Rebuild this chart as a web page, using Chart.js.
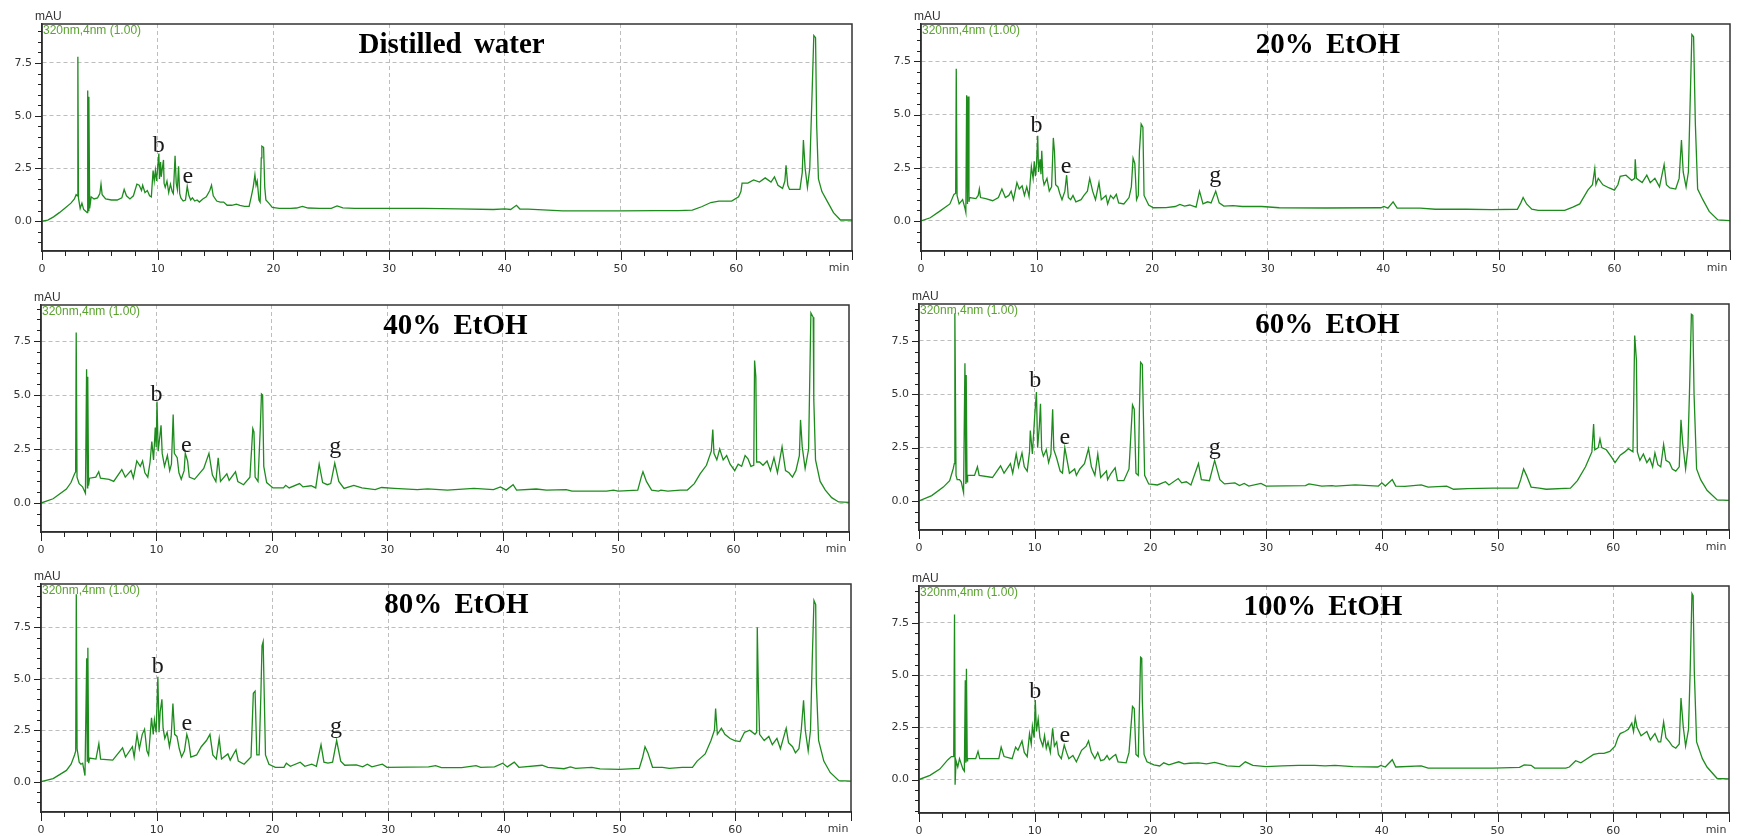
<!DOCTYPE html>
<html>
<head>
<meta charset="utf-8">
<script src="https://cdn.jsdelivr.net/npm/chart.js@4.4.1/dist/chart.umd.min.js"></script>
<style>
  html, body { margin: 0; padding: 0; background: #fff; }
  body { width: 1741px; height: 836px; position: relative; overflow: hidden; }
  canvas { position: absolute; }
</style>
</head>
<body>
<script>
// axis ticks shared by all six chromatograms
const xTicks = [0, 10, 20, 30, 40, 50, 60, 70];
const yTicks = [0, 2.5, 5, 7.5];

// [time (min), absorbance (mAU)]
const waterTrace = [[0,0],[0.5,0.05],[1,0.2],[1.5,0.4],[2,0.62],[2.5,0.85],[2.8,1.05],[2.95,1.25],[3.05,1.2],[3.1,7.8],[3.15,1.1],[3.3,0.6],[3.45,0.85],[3.6,0.55],[3.8,0.45],[3.9,0.4],[3.95,6.2],[4.0,0.5],[4.05,5.9],[4.12,0.6],[4.25,1.15],[4.5,1.05],[4.8,1.1],[5.0,1.3],[5.1,1.75],[5.2,1.25],[5.5,1.05],[6.0,1.0],[6.5,1.0],[6.9,1.1],[7.1,1.5],[7.3,1.2],[7.6,1.05],[7.9,1.2],[8.2,1.75],[8.4,1.7],[8.6,1.45],[8.7,1.7],[8.9,1.35],[9.1,1.45],[9.3,1.2],[9.45,1.15],[9.6,2.4],[9.7,1.9],[9.8,2.4],[9.9,1.9],[10.0,2.6],[10.1,3.2],[10.15,2.0],[10.25,2.8],[10.3,2.1],[10.4,2.5],[10.5,2.9],[10.55,1.8],[10.65,1.6],[10.8,1.9],[10.95,1.35],[11.1,1.75],[11.25,1.4],[11.35,1.3],[11.5,3.1],[11.6,1.8],[11.7,1.5],[11.8,2.6],[11.9,1.3],[12.0,1.1],[12.2,0.95],[12.4,1.0],[12.55,1.65],[12.7,1.2],[12.85,1.0],[13.0,1.1],[13.2,0.95],[13.4,1.0],[13.6,0.9],[13.9,1.05],[14.2,1.15],[14.5,1.45],[14.65,1.7],[14.8,1.2],[15.1,0.95],[15.4,0.9],[15.7,0.9],[16.0,0.75],[16.4,0.75],[16.8,0.8],[17.1,0.75],[17.5,0.7],[17.9,0.7],[18.1,1.2],[18.25,1.6],[18.4,2.2],[18.5,1.7],[18.6,1.9],[18.75,1.0],[18.85,0.9],[18.95,3.0],[19.0,3.55],[19.15,3.5],[19.25,1.6],[19.35,1.0],[19.6,0.85],[19.9,0.65],[20.5,0.6],[21.5,0.6],[22.0,0.62],[22.5,0.7],[23.0,0.62],[24.0,0.6],[25.0,0.6],[25.5,0.72],[26.0,0.63],[27,0.6],[30,0.6],[33,0.6],[36,0.58],[39,0.55],[40,0.58],[40.5,0.55],[41.0,0.75],[41.3,0.57],[42,0.57],[45,0.48],[48,0.48],[50,0.48],[53,0.5],[55,0.5],[56.2,0.52],[57,0.68],[57.8,0.88],[58.5,0.95],[59.6,0.95],[60.2,1.15],[60.4,1.4],[60.5,1.8],[61,1.8],[61.5,1.95],[62,1.85],[62.5,2.05],[63,1.85],[63.3,2.1],[63.6,1.7],[64.0,1.55],[64.2,1.9],[64.3,2.65],[64.45,1.7],[64.6,1.5],[65.0,1.5],[65.5,1.5],[65.7,2.3],[65.8,3.85],[65.95,2.5],[66.15,1.6],[66.35,2.5],[66.55,6.05],[66.7,8.8],[66.85,8.7],[66.95,4.5],[67.1,2.0],[67.4,1.4],[67.9,0.9],[68.4,0.4],[69.0,0.05],[70,0.05]];

const twentyTrace = [[0,0],[0.8,0.15],[1.6,0.45],[2.5,0.8],[2.85,1.25],[3.0,1.3],[3.05,7.15],[3.12,1.2],[3.3,0.8],[3.6,1.0],[3.8,0.6],[3.88,0.4],[3.95,5.9],[4.02,0.8],[4.07,5.85],[4.15,0.9],[4.2,1.1],[4.75,1.05],[4.95,1.2],[5.05,1.5],[5.15,1.1],[5.6,1.05],[6.2,0.95],[6.7,1.1],[7.0,1.5],[7.3,1.1],[7.6,1.2],[7.8,1.4],[8.0,1.0],[8.3,1.8],[8.5,1.5],[8.75,1.65],[8.95,1.2],[9.15,1.6],[9.35,1.15],[9.55,2.55],[9.7,2.0],[9.8,2.8],[9.9,2.1],[10.0,2.7],[10.1,4.0],[10.17,2.3],[10.3,2.9],[10.38,2.2],[10.45,3.3],[10.55,2.0],[10.65,1.7],[10.9,2.0],[11.1,1.4],[11.3,1.6],[11.45,3.9],[11.55,3.25],[11.65,1.7],[11.85,1.6],[12.0,1.3],[12.2,1.0],[12.45,1.4],[12.6,2.15],[12.75,1.1],[12.95,1.0],[13.15,1.2],[13.4,0.9],[13.85,1.0],[14.1,1.2],[14.4,1.4],[14.6,2.0],[14.85,1.4],[15.1,1.0],[15.4,1.8],[15.6,1.0],[16.0,1.2],[16.15,0.8],[16.4,1.2],[16.65,1.05],[16.9,1.25],[17.1,0.85],[17.55,0.8],[18.0,1.1],[18.2,1.6],[18.35,2.95],[18.5,2.7],[18.65,1.0],[18.8,1.2],[18.9,3.3],[19.05,4.55],[19.2,4.4],[19.3,1.2],[19.7,0.75],[20.1,0.62],[21.2,0.63],[22.0,0.68],[22.4,0.78],[22.8,0.7],[23.25,0.75],[23.8,0.65],[24.1,1.4],[24.4,0.8],[24.8,0.9],[25.1,0.85],[25.5,1.4],[25.8,0.85],[26.2,0.7],[27.0,0.72],[27.8,0.68],[29.5,0.68],[31,0.62],[35,0.61],[39.8,0.62],[40.05,0.68],[40.4,0.6],[40.85,0.9],[41.2,0.6],[43.2,0.6],[44.5,0.55],[47.2,0.55],[49.4,0.53],[51.6,0.55],[51.9,0.85],[52.1,1.1],[52.4,0.8],[52.85,0.55],[53.4,0.5],[55.7,0.5],[56.4,0.65],[57.0,0.8],[57.7,1.45],[58.1,1.7],[58.3,2.45],[58.4,1.7],[58.6,2.0],[59.0,1.7],[59.55,1.55],[60.0,1.45],[60.3,1.7],[60.5,2.1],[61.0,2.15],[61.5,1.9],[61.75,2.0],[61.8,2.9],[61.9,2.0],[62.4,1.8],[62.8,2.15],[63.1,1.8],[63.5,2.0],[63.9,1.6],[64.3,2.65],[64.5,1.7],[64.8,1.55],[65.3,1.5],[65.6,2.0],[65.8,3.8],[65.95,2.3],[66.2,1.6],[66.4,2.3],[66.57,5.95],[66.7,8.75],[66.85,8.65],[67.0,4.6],[67.2,1.5],[67.65,1.0],[68.2,0.45],[68.95,0.05],[70,0.02]];

const fortyTrace = [[0,0],[1.05,0.2],[2.2,0.65],[2.6,0.95],[2.9,1.35],[3.0,1.45],[3.05,7.9],[3.12,1.2],[3.3,0.9],[3.6,0.75],[3.85,0.45],[3.95,6.2],[4.02,0.7],[4.05,5.85],[4.12,0.8],[4.2,1.15],[4.75,1.2],[5.0,1.45],[5.15,1.15],[5.9,1.1],[6.3,1.0],[7.0,1.55],[7.3,1.2],[7.8,1.5],[8.0,1.15],[8.3,1.95],[8.6,1.7],[8.8,1.95],[9.0,1.4],[9.25,1.2],[9.45,1.9],[9.6,2.85],[9.75,2.0],[9.9,3.5],[9.98,2.6],[10.05,4.7],[10.15,2.4],[10.4,3.6],[10.5,2.3],[10.7,1.7],[10.95,2.2],[11.15,1.5],[11.3,1.8],[11.45,4.1],[11.55,2.3],[11.8,2.1],[11.95,1.4],[12.15,1.1],[12.4,1.5],[12.5,2.3],[12.7,1.95],[12.85,1.2],[13.3,1.1],[13.7,1.35],[14.1,1.6],[14.55,2.3],[14.85,1.3],[15.15,1.0],[15.35,2.1],[15.55,1.0],[16.1,1.35],[16.3,1.05],[16.85,1.45],[17.05,1.0],[17.55,0.85],[18.1,1.2],[18.35,3.45],[18.45,3.3],[18.55,1.2],[18.8,1.0],[19.0,3.5],[19.1,5.05],[19.2,5.0],[19.3,1.7],[19.55,0.95],[20.1,0.7],[21.0,0.7],[21.2,0.82],[21.5,0.7],[22.4,0.9],[22.7,0.75],[23.4,0.8],[23.8,0.7],[24.1,1.8],[24.4,0.95],[24.8,0.85],[25.1,0.9],[25.45,1.85],[25.8,1.0],[26.25,0.68],[27.1,0.82],[27.8,0.7],[28.95,0.62],[29.5,0.72],[30.6,0.68],[32.6,0.62],[33.5,0.66],[35.2,0.6],[37.5,0.68],[39.2,0.62],[39.8,0.75],[40.3,0.6],[40.9,0.85],[41.2,0.6],[42.9,0.65],[43.8,0.6],[45.5,0.62],[46.0,0.55],[49.0,0.55],[49.6,0.6],[50.0,0.55],[51.7,0.6],[52.0,1.2],[52.15,1.45],[52.45,1.0],[52.9,0.6],[53.5,0.55],[53.7,0.6],[54.3,0.55],[55.4,0.6],[56.0,0.6],[56.6,0.9],[57.1,1.35],[57.65,1.75],[58.07,2.4],[58.2,3.4],[58.3,2.3],[58.55,2.0],[58.8,2.5],[59.1,2.0],[59.4,2.2],[59.7,1.8],[60.1,1.5],[60.4,1.8],[60.7,1.7],[61.0,2.2],[61.25,2.05],[61.5,1.7],[61.75,1.75],[61.82,6.6],[61.93,5.85],[62.0,1.9],[62.25,1.9],[62.55,1.75],[62.9,1.95],[63.2,1.5],[63.5,2.1],[63.8,1.4],[64.2,2.6],[64.5,1.5],[64.8,1.4],[65.1,1.2],[65.4,1.5],[65.7,2.2],[65.8,3.85],[65.95,2.6],[66.2,1.6],[66.5,2.5],[66.6,5.7],[66.7,8.8],[66.9,8.6],[66.95,4.8],[67.1,2.0],[67.5,1.0],[67.95,0.6],[68.5,0.25],[69.1,0.05],[70,0.03]];

const sixtyTrace = [[0,0],[1.1,0.25],[2.1,0.65],[2.65,0.95],[2.95,1.5],[3.05,1.75],[3.1,8.8],[3.2,1.2],[3.3,1.0],[3.5,1.0],[3.65,0.9],[3.85,0.4],[3.97,6.45],[4.05,0.8],[4.08,5.9],[4.15,0.9],[4.2,1.2],[4.8,1.2],[5.05,1.6],[5.2,1.2],[6.35,1.1],[7.05,1.65],[7.35,1.3],[7.9,1.75],[8.1,1.3],[8.4,2.2],[8.6,1.6],[8.9,2.25],[9.1,1.6],[9.35,1.4],[9.55,2.3],[9.62,3.3],[9.8,2.2],[10.0,4.0],[10.15,5.1],[10.25,2.5],[10.4,3.5],[10.5,4.55],[10.6,2.4],[10.75,2.1],[11.0,2.4],[11.2,1.8],[11.4,2.2],[11.55,4.3],[11.65,2.4],[11.9,2.0],[12.2,1.4],[12.4,1.3],[12.6,2.5],[12.8,1.9],[13.0,1.3],[13.45,1.5],[13.6,1.2],[13.9,1.5],[14.3,1.75],[14.65,2.45],[14.9,1.6],[15.2,1.2],[15.45,2.2],[15.7,1.1],[16.2,1.4],[16.3,1.0],[16.6,1.3],[16.95,1.55],[17.15,0.95],[17.7,0.95],[18.15,1.5],[18.45,4.5],[18.6,4.3],[18.75,1.3],[18.95,1.2],[19.05,4.3],[19.15,6.5],[19.3,6.4],[19.4,3.8],[19.5,1.2],[19.85,0.8],[20.6,0.75],[21.3,0.9],[21.6,0.75],[22.4,1.05],[22.7,0.85],[23.1,0.9],[23.5,0.75],[24.15,1.75],[24.4,1.0],[25.1,0.95],[25.55,1.9],[26.0,1.0],[26.4,0.8],[27.3,0.85],[27.7,0.72],[28.1,0.82],[28.5,0.7],[29.55,0.82],[30.0,0.7],[33.4,0.72],[33.7,0.8],[34.8,0.7],[35.7,0.72],[36.0,0.7],[37.7,0.75],[39.7,0.7],[40.0,0.85],[40.3,0.7],[40.9,1.0],[41.2,0.7],[42.0,0.68],[43.4,0.75],[44.0,0.65],[45.6,0.7],[46.2,0.55],[47.4,0.58],[49.6,0.6],[51.75,0.6],[52.0,1.0],[52.25,1.5],[52.5,1.2],[52.9,0.65],[53.6,0.6],[54.2,0.55],[56.3,0.6],[56.9,0.95],[57.6,1.6],[58.15,2.3],[58.3,3.6],[58.4,2.4],[58.7,2.5],[58.85,2.9],[59.0,2.5],[59.4,2.4],[59.85,2.05],[60.15,1.8],[60.6,2.15],[61.0,2.3],[61.3,2.45],[61.7,2.3],[61.85,7.75],[62.0,6.6],[62.08,2.3],[62.3,1.9],[62.6,2.2],[62.9,1.8],[63.15,2.0],[63.4,1.6],[63.6,2.25],[63.85,1.7],[64.1,1.6],[64.35,2.65],[64.55,1.9],[64.85,1.8],[65.1,1.5],[65.4,1.4],[65.7,1.6],[65.85,3.8],[66.0,2.7],[66.25,1.5],[66.45,2.5],[66.6,5.4],[66.75,8.75],[66.87,8.7],[66.98,5.0],[67.2,1.5],[67.55,1.0],[68.1,0.5],[68.98,0.05],[70,0.03]];

const eightyTrace = [[0,0],[1.05,0.15],[2.2,0.55],[2.6,0.85],[2.9,1.3],[3.0,1.5],[3.05,9.1],[3.12,1.6],[3.3,0.95],[3.45,0.85],[3.6,0.9],[3.8,0.3],[3.95,6.0],[4.0,1.0],[4.05,6.5],[4.12,0.9],[4.2,1.15],[4.75,1.1],[5.0,1.85],[5.15,1.1],[6.2,1.05],[7.05,1.65],[7.3,1.2],[7.9,1.7],[8.05,1.2],[8.3,2.3],[8.5,1.6],[8.75,2.3],[8.95,2.55],[9.15,1.5],[9.3,1.3],[9.55,3.1],[9.7,2.3],[9.8,3.0],[9.95,2.4],[10.1,5.1],[10.2,2.4],[10.3,3.4],[10.45,4.0],[10.55,2.6],[10.7,2.1],[10.9,2.4],[11.1,1.7],[11.25,2.2],[11.4,3.8],[11.55,2.3],[11.75,2.2],[11.95,1.6],[12.15,1.2],[12.4,1.5],[12.6,2.3],[12.75,2.0],[12.95,1.2],[13.45,1.3],[13.85,1.7],[14.3,2.0],[14.6,2.3],[14.85,1.3],[15.15,1.1],[15.4,2.1],[15.6,1.1],[16.15,1.35],[16.35,1.05],[16.85,1.55],[17.05,1.0],[17.55,0.85],[18.15,1.2],[18.35,4.3],[18.5,4.4],[18.65,1.3],[18.85,1.3],[19.0,4.2],[19.1,6.6],[19.2,6.8],[19.3,4.0],[19.4,1.3],[19.7,0.85],[20.25,0.7],[21.0,0.7],[21.2,0.9],[21.55,0.75],[22.4,0.95],[22.8,0.75],[23.4,0.85],[23.8,0.75],[24.2,1.8],[24.45,0.95],[24.8,0.9],[25.2,0.95],[25.55,2.0],[25.9,1.0],[26.25,0.8],[27.25,0.82],[27.8,0.72],[28.2,0.85],[28.6,0.72],[29.5,0.85],[29.9,0.7],[33.5,0.72],[34.1,0.78],[34.6,0.68],[36.35,0.68],[37.6,0.78],[38.0,0.7],[39.2,0.72],[39.9,0.9],[40.3,0.72],[40.9,0.95],[41.3,0.7],[43.3,0.8],[43.8,0.7],[45.2,0.63],[45.75,0.72],[46.2,0.65],[47.6,0.7],[48.3,0.62],[50.0,0.6],[51.7,0.65],[52.0,1.2],[52.2,1.7],[52.45,1.4],[52.85,0.7],[53.7,0.7],[54.3,0.65],[55.4,0.7],[56.3,0.7],[56.7,1.0],[57.4,1.35],[57.9,2.0],[58.2,2.5],[58.3,3.55],[58.45,2.3],[58.8,2.6],[59.1,2.3],[59.55,2.1],[59.95,2.0],[60.4,1.95],[60.8,2.4],[61.25,2.5],[61.7,2.3],[61.85,2.4],[61.9,7.5],[62.0,4.4],[62.1,2.3],[62.5,2.0],[62.9,2.2],[63.2,1.8],[63.6,2.1],[63.9,1.6],[64.4,2.6],[64.6,1.9],[64.95,1.7],[65.2,1.4],[65.5,1.6],[65.7,2.5],[65.9,3.95],[66.05,2.5],[66.3,1.5],[66.5,2.5],[66.65,5.9],[66.8,8.8],[66.95,8.6],[67.0,4.8],[67.2,2.0],[67.65,1.0],[68.2,0.45],[68.95,0.05],[70,0.03]];

const hundredTrace = [[0,0],[0.95,0.2],[1.8,0.5],[2.5,0.95],[2.8,1.1],[3.0,1.1],[3.07,7.9],[3.12,-0.25],[3.2,0.9],[3.35,0.6],[3.5,1.0],[3.8,0.5],[3.92,0.4],[4.0,4.75],[4.05,0.8],[4.1,5.3],[4.17,0.9],[4.2,1.0],[4.9,1.0],[5.1,1.35],[5.25,1.0],[6.9,1.0],[7.1,1.55],[7.35,1.1],[8.05,1.0],[8.35,1.55],[8.55,1.4],[8.9,1.85],[9.1,1.3],[9.35,1.1],[9.55,2.2],[9.7,1.7],[9.8,2.55],[9.95,2.0],[10.05,3.8],[10.15,2.3],[10.3,2.9],[10.45,2.0],[10.7,1.6],[10.85,2.1],[11.0,1.5],[11.15,1.8],[11.35,1.3],[11.55,2.45],[11.7,1.6],[11.9,1.8],[12.05,1.2],[12.3,1.0],[12.55,1.65],[12.75,1.3],[12.95,1.0],[13.3,1.15],[13.6,0.85],[14.05,1.4],[14.45,1.6],[14.65,1.85],[14.9,1.3],[15.2,1.0],[15.45,1.3],[15.7,0.9],[16.0,0.95],[16.25,1.15],[16.45,0.95],[16.75,1.1],[17.0,1.2],[17.2,0.85],[17.9,0.8],[18.15,1.3],[18.45,3.5],[18.6,3.4],[18.75,1.2],[18.95,1.1],[19.05,3.5],[19.15,5.85],[19.25,5.8],[19.3,3.8],[19.45,1.2],[19.7,0.85],[20.3,0.7],[20.8,0.65],[21.15,0.8],[21.6,0.7],[22.45,0.85],[22.9,0.75],[23.4,0.78],[24.15,0.8],[24.85,0.75],[25.55,0.82],[26.3,0.72],[26.6,0.65],[27.7,0.62],[28.2,0.85],[28.85,0.68],[30.0,0.62],[31.4,0.65],[32.8,0.68],[34.2,0.68],[35.1,0.65],[35.95,0.68],[37.5,0.62],[39.65,0.6],[39.9,0.68],[40.3,0.6],[40.9,0.95],[41.2,0.6],[43.4,0.65],[44.0,0.55],[47.35,0.55],[49.6,0.55],[51.9,0.58],[52.3,0.7],[52.9,0.68],[53.2,0.55],[55.3,0.55],[55.9,0.55],[56.2,0.6],[56.75,0.9],[57.2,0.8],[57.6,0.95],[58.3,1.2],[58.75,1.25],[59.2,1.25],[59.7,1.35],[60.15,1.6],[60.4,2.0],[60.6,2.2],[61.0,2.3],[61.3,2.4],[61.6,2.7],[61.75,2.3],[61.9,2.95],[62.05,2.5],[62.4,2.1],[62.9,2.3],[63.2,1.9],[63.6,2.2],[63.9,1.8],[64.1,1.8],[64.35,2.75],[64.55,2.0],[64.85,1.8],[65.1,1.6],[65.4,1.5],[65.7,1.7],[65.85,3.9],[66.05,2.5],[66.25,1.6],[66.5,2.4],[66.65,5.3],[66.8,8.9],[66.9,8.8],[67.0,5.2],[67.2,1.8],[67.7,1.0],[68.1,0.6],[68.98,0.05],[70,0.03]];

// peak letters: [label, time, height of the baseline of the letter]
const waterPeaks = [['b', 10.1, 3.27], ['e', 12.6, 1.8]];
const twentyPeaks = [['b', 10.0, 4.2], ['e', 12.55, 2.25], ['g', 25.45, 1.85]];
const fortyPeaks = [['b', 10.0, 4.74], ['e', 12.6, 2.37], ['g', 25.5, 2.3]];
const sixtyPeaks = [['b', 10.05, 5.33], ['e', 12.6, 2.67], ['g', 25.55, 2.2]];
const eightyPeaks = [['b', 10.1, 5.26], ['e', 12.6, 2.5], ['g', 25.5, 2.38]];
const hundredPeaks = [['b', 10.05, 3.9], ['e', 12.6, 1.81]];

const panelTitles = ['Distilled water', '20% EtOH', '40% EtOH', '60% EtOH', '80% EtOH', '100% EtOH'];

// plot area in page pixels [left, top, right, bottom] and y range for each panel
const panels = [
    { title: panelTitles[0], trace: waterTrace, peaks: waterPeaks, area: [42, 24, 862, 251], yMin: -1.42, yMax: 9.35, titleAt: 35.4 },
    { title: panelTitles[1], trace: twentyTrace, peaks: twentyPeaks, area: [921, 24, 1740, 251], yMin: -1.41, yMax: 9.25, titleAt: 35.2 },
    { title: panelTitles[2], trace: fortyTrace, peaks: fortyPeaks, area: [41, 305, 859, 532], yMin: -1.34, yMax: 9.17, titleAt: 35.9 },
    { title: panelTitles[3], trace: sixtyTrace, peaks: sixtyPeaks, area: [919, 304, 1739, 530], yMin: -1.36, yMax: 9.23, titleAt: 35.3 },
    { title: panelTitles[4], trace: eightyTrace, peaks: eightyPeaks, area: [41, 584, 861, 812], yMin: -1.47, yMax: 9.6, titleAt: 35.9 },
    { title: panelTitles[5], trace: hundredTrace, peaks: hundredPeaks, area: [919, 586, 1739, 813], yMin: -1.6, yMax: 9.26, titleAt: 34.9 }
];

const AXIS_W = 42;
const AXIS_H = 24;
const TOP_PAD = 24;

const decorations = {
    id: 'decorations',
    afterDraw(chart, args, opts) {
        const { ctx, chartArea: a, scales: { x, y } } = chart;
        const p = opts.panel;
        ctx.save();

        // frame round the plot
        ctx.strokeStyle = '#333';
        ctx.lineWidth = 1.5;
        ctx.strokeRect(a.left, a.top, a.right - a.left, a.bottom - a.top);

        // major and minor tick marks
        ctx.lineWidth = 1;
        ctx.strokeStyle = '#222';
        ctx.beginPath();
        for (let v = Math.ceil(y.min * 2) / 2; v <= y.max; v += 0.5) {
            const py = Math.round(y.getPixelForValue(v)) + 0.5;
            const len = Math.abs(v % 2.5) < 1e-6 ? 7 : 4;
            ctx.moveTo(a.left - len, py);
            ctx.lineTo(a.left, py);
        }
        for (let t = 0; t <= 70; t += 2) {
            const px = Math.round(x.getPixelForValue(t)) + 0.5;
            const len = t % 10 === 0 ? 9 : 5;
            ctx.moveTo(px, a.bottom);
            ctx.lineTo(px, a.bottom + len);
        }
        ctx.stroke();

        // unit labels
        ctx.fillStyle = '#333';
        ctx.font = '12px "Liberation Sans"';
        ctx.textAlign = 'left';
        ctx.textBaseline = 'bottom';
        ctx.fillText('mAU', a.left - 7, a.top - 1);

        ctx.font = '11px "DejaVu Sans"';
        ctx.textAlign = 'center';
        ctx.textBaseline = 'top';
        ctx.fillText('min', a.right - 13, a.bottom + 12);

        ctx.fillStyle = '#5aa32e';
        ctx.font = '12px "Liberation Sans"';
        ctx.textAlign = 'left';
        ctx.textBaseline = 'top';
        ctx.fillText('320nm,4nm (1.00)', a.left + 1, a.top + 1);

        // sample title
        ctx.fillStyle = '#000';
        ctx.font = 'bold 29px "Liberation Serif"';
        ctx.textAlign = 'center';
        ctx.textBaseline = 'alphabetic';
        ctx.wordSpacing = '5px';
        ctx.fillText(p.title, x.getPixelForValue(p.titleAt), a.top + 29);
        ctx.wordSpacing = '0px';

        // peak letters
        ctx.fillStyle = '#1a1a1a';
        ctx.font = '24px "Liberation Serif"';
        p.peaks.forEach(([label, t, v]) => {
            ctx.fillText(label, x.getPixelForValue(t), y.getPixelForValue(v));
        });

        ctx.restore();
    }
};

function createPanel(panel) {
    const [left, top, right, bottom] = panel.area;
    const canvas = document.createElement('canvas');
    const w = right - left + AXIS_W + 2;
    const h = bottom - top + TOP_PAD + AXIS_H;
    canvas.width = w;
    canvas.height = h;
    canvas.style.left = (left - AXIS_W) + 'px';
    canvas.style.top = (top - TOP_PAD) + 'px';
    canvas.style.width = w + 'px';
    canvas.style.height = h + 'px';
    document.body.appendChild(canvas);

    return new Chart(canvas.getContext('2d'), {
        type: 'line',
        data: {
            datasets: [{
                data: panel.trace,
                borderColor: '#1d8c1d',
                borderWidth: 1.3,
                pointRadius: 0,
                tension: 0,
                fill: false
            }]
        },
        options: {
            responsive: false,
            animation: false,
            events: [],
            layout: { padding: { top: TOP_PAD, left: 0, right: 2, bottom: 0 } },
            plugins: {
                legend: { display: false },
                tooltip: { enabled: false },
                decorations: { panel: panel }
            },
            scales: {
                x: {
                    type: 'linear',
                    min: 0,
                    max: 70,
                    afterBuildTicks: s => { s.ticks = xTicks.map(v => ({ value: v })); },
                    afterFit: s => { s.height = AXIS_H; },
                    ticks: {
                        padding: 12,
                        maxRotation: 0,
                        color: '#333',
                        font: { family: 'DejaVu Sans', size: 11 },
                        callback: v => (v === 70 ? '' : String(v))
                    },
                    grid: {
                        drawTicks: false,
                        color: c => (c.tick && (c.tick.value === 0 || c.tick.value === 70)) ? 'rgba(0,0,0,0)' : '#bdbdbd',
                        lineWidth: 1
                    },
                    // in v4 border.dash dashes the grid lines
                    border: { display: true, color: '#222', width: 1.5, dash: [4, 3] }
                },
                y: {
                    type: 'linear',
                    min: panel.yMin,
                    max: panel.yMax,
                    afterBuildTicks: s => { s.ticks = yTicks.map(v => ({ value: v })); },
                    afterFit: s => { s.width = AXIS_W; },
                    ticks: {
                        padding: 10,
                        color: '#333',
                        font: { family: 'DejaVu Sans', size: 11 },
                        callback: v => v.toFixed(1)
                    },
                    grid: {
                        drawTicks: false,
                        color: '#bdbdbd',
                        lineWidth: 1
                    },
                    border: { display: true, color: '#222', width: 1.5, dash: [4, 3] }
                }
            }
        },
        plugins: [decorations]
    });
}

panels.forEach(p => createPanel(p));
</script>
</body>
</html>
